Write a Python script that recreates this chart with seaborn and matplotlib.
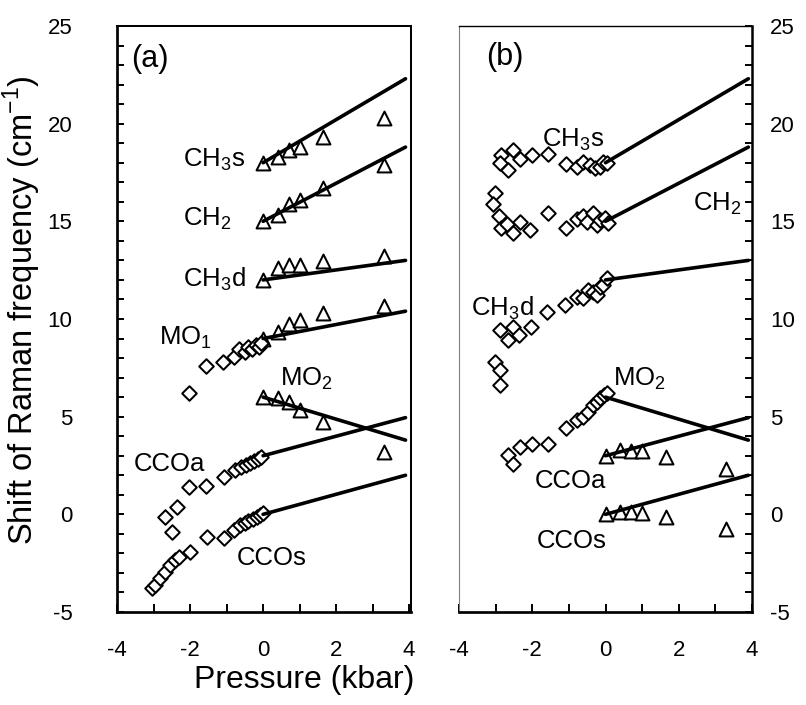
import numpy as np
import pandas as pd
import matplotlib
matplotlib.use("Agg")
import matplotlib.pyplot as plt
import seaborn as sns
from matplotlib.ticker import MultipleLocator

# ---------------- data ----------------
tri_x = [0.0, 0.4, 0.7, 1.0, 1.65, 3.3]

# panel (a) triangles (positive pressure)
a_CH3s_tri = [18.0, 18.3, 18.65, 18.8, 19.3, 20.3]
a_CH2_tri = [15.0, 15.3, 15.9, 16.1, 16.7, 17.9]
a_CH3d_tri = [12.0, 12.6, 12.75, 12.75, 12.95, 13.2]
a_MO1_tri = [9.0, 9.35, 9.75, 9.95, 10.3, 10.65]
a_MO2_tri = [6.0, 5.95, 5.75, 5.35, 4.75, 3.2]

# panel (a) diamonds (negative pressure)
a_MO1_dx = [-2.03, -1.56, -1.09, -0.80, -0.65, -0.50, -0.40, -0.30, -0.20, -0.12, -0.05]
a_MO1_dy = [6.19, 7.59, 7.78, 8.07, 8.45, 8.30, 8.55, 8.45, 8.65, 8.55, 8.75]
a_CCOa_dx = [-2.68, -2.50, -2.36, -2.02, -1.56, -1.06, -0.77, -0.61, -0.47, -0.35, -0.25, -0.15, -0.05]
a_CCOa_dy = [-0.16, -0.89, 0.36, 1.38, 1.46, 1.89, 2.27, 2.44, 2.52, 2.62, 2.75, 2.85, 2.95]
a_CCOs_dx = [-3.05, -2.96, -2.82, -2.68, -2.55, -2.41, -2.29, -2.00, -1.53, -1.06, -0.81,
             -0.63, -0.50, -0.40, -0.27, -0.18, -0.08, 0.0]
a_CCOs_dy = [-3.79, -3.62, -3.28, -2.94, -2.60, -2.34, -2.17, -1.92, -1.15, -1.23, -0.81,
             -0.55, -0.45, -0.35, -0.25, -0.15, -0.05, 0.05]

# panel (b) diamonds (negative pressure)
b_CH3s_dx = [-2.84, -2.52, -2.88, -2.66, -2.34, -2.02, -1.56, -1.08, -0.79, -0.61, -0.42, -0.29, -0.15, -0.06, 0.03]
b_CH3s_dy = [18.39, 18.65, 17.97, 17.63, 18.18, 18.39, 18.44, 17.93, 17.80, 18.05, 17.88, 17.71, 17.80, 18.05, 17.97]
b_CH2_dx = [-3.02, -3.07, -2.90, -2.84, -2.70, -2.52, -2.34, -2.06, -1.56, -1.08, -0.79, -0.61, -0.51, -0.33, -0.24, -0.15, -0.01, 0.08]
b_CH2_dy = [16.47, 15.89, 15.27, 14.67, 14.86, 14.38, 14.98, 14.55, 15.41, 14.64, 15.10, 15.27, 14.98, 15.41, 14.81, 15.07, 15.15, 14.93]
b_CH3d_dx = [-3.02, -2.88, -2.88, -2.88, -2.66, -2.52, -2.36, -2.04, -1.59, -1.11, -0.79, -0.61, -0.47, -0.33, -0.24, -0.15, -0.06, 0.03]
b_CH3d_dy = [7.81, 7.39, 6.62, 9.43, 8.92, 9.60, 9.18, 9.60, 10.37, 10.71, 11.14, 11.06, 11.48, 11.40, 11.23, 11.65, 11.74, 12.08]
b_MO2_dx = [-2.66, -2.52, -2.34, -2.02, -1.56, -1.08, -0.79, -0.62, -0.47, -0.33, -0.24, -0.15, -0.04, 0.03]
b_MO2_dy = [3.03, 2.60, 3.46, 3.60, 3.60, 4.40, 4.83, 5.00, 5.25, 5.59, 5.76, 5.94, 6.10, 6.19]

# panel (b) triangles
b_CCOa_tri = [2.98, 3.27, 3.25, 3.25, 2.95, 2.30]
b_CCOs_tri = [0.0, 0.13, 0.13, 0.08, -0.15, -0.77]

# fitted lines (start at 0 kbar, end at 3.9 kbar)
line_x = [0.0, 3.9]
line_CH3s = [18.0, 22.3]
line_CH2 = [15.0, 18.8]
line_CH3d = [12.0, 13.0]
line_MO1 = [9.0, 10.4]
line_MO2 = [6.0, 3.8]
line_CCOa = [3.0, 4.95]
line_CCOs = [0.0, 2.0]

y_ticks = [-5, 0, 5, 10, 15, 20, 25]
x_ticks = [-4, -2, 0, 2, 4]

# ---------------- style ----------------
sns.set_style("ticks")
plt.rcParams["font.family"] = ["Liberation Sans", "DejaVu Sans"]
plt.rcParams["axes.unicode_minus"] = False
for k in ["text.color", "axes.labelcolor", "xtick.color", "ytick.color", "axes.edgecolor"]:
    plt.rcParams[k] = "black"

fig = plt.figure(figsize=(8.06, 7.05), dpi=100)
W, H = 806, 705
ax_a = fig.add_axes([117 / W, 1 - 612 / H, (411 - 117) / W, (612 - 26) / H])
ax_b = fig.add_axes([459 / W, 1 - 612 / H, (752 - 459) / W, (612 - 26) / H])

D_S = 55
T_S = 100
EW = 1.45
LW = 2.6


def diamonds(ax, x, y):
    sns.scatterplot(x=x, y=y, ax=ax, marker="D", s=D_S, color="white",
                    edgecolor="black", linewidth=EW, zorder=3, legend=False)


def triangles(ax, y):
    sns.scatterplot(x=tri_x, y=y, ax=ax, marker="^", s=T_S, color="white",
                    edgecolor="black", linewidth=EW, zorder=3, legend=False)


def fitline(ax, y):
    sns.lineplot(x=line_x, y=y, ax=ax, color="black", linewidth=LW,
                 estimator=None, zorder=4, legend=False)


# panel (a)
for yv in [a_CH3s_tri, a_CH2_tri, a_CH3d_tri, a_MO1_tri, a_MO2_tri]:
    triangles(ax_a, yv)
diamonds(ax_a, a_MO1_dx, a_MO1_dy)
diamonds(ax_a, a_CCOa_dx, a_CCOa_dy)
diamonds(ax_a, a_CCOs_dx, a_CCOs_dy)
for yv in [line_CH3s, line_CH2, line_CH3d, line_MO1, line_MO2, line_CCOa, line_CCOs]:
    fitline(ax_a, yv)

# panel (b)
diamonds(ax_b, b_CH3s_dx, b_CH3s_dy)
diamonds(ax_b, b_CH2_dx, b_CH2_dy)
diamonds(ax_b, b_CH3d_dx, b_CH3d_dy)
diamonds(ax_b, b_MO2_dx, b_MO2_dy)
triangles(ax_b, b_CCOa_tri)
triangles(ax_b, b_CCOs_tri)
for yv in [line_CH3s, line_CH2, line_CH3d, line_MO2, line_CCOa, line_CCOs]:
    fitline(ax_b, yv)

# axes formatting
for ax, xmax in [(ax_a, 4.05), (ax_b, 4.0)]:
    ax.set_xlim(-4, xmax)
    ax.set_ylim(-5, 25)
    ax.set_xticks(x_ticks)
    ax.set_xticklabels([str(v) for v in x_ticks])
    ax.set_yticks(y_ticks)
    ax.set_yticklabels([str(v) for v in y_ticks])
    ax.xaxis.set_minor_locator(MultipleLocator(1))
    ax.yaxis.set_minor_locator(MultipleLocator(1))
    ax.set_xlabel("")
    ax.set_ylabel("")
    ax.tick_params(axis="x", which="both", direction="in", length=6, width=1.4,
                   labelsize=16, pad=20, top=False, bottom=True, colors="black")

ax_a.tick_params(axis="y", which="both", direction="in", length=5, width=1.4,
                 labelsize=16, pad=32, left=True, right=False, colors="black")
ax_b.tick_params(axis="y", which="both", direction="in", length=5, width=1.4,
                 labelsize=16, pad=13, left=False, right=True,
                 labelleft=False, labelright=True, colors="black")

# spines
for s, lw in {"left": 1.95, "bottom": 1.95, "top": 1.45, "right": 1.45}.items():
    ax_a.spines[s].set_linewidth(lw)
    ax_a.spines[s].set_color("black")
ax_b.spines["left"].set_linewidth(0.8)
ax_b.spines["left"].set_color("#808080")
ax_b.spines["top"].set_linewidth(1.0)
ax_b.spines["top"].set_color("black")
ax_b.spines["right"].set_linewidth(1.8)
ax_b.spines["right"].set_color("black")
ax_b.spines["bottom"].set_linewidth(1.95)
ax_b.spines["bottom"].set_color("black")

# annotations
FS = 18.5
ax_a.text(-3.6, 22.92, "(a)", fontsize=22, va="baseline", ha="left")
ax_a.text(-2.2, 17.8, r"CH$_\mathregular{3}$s", fontsize=FS, va="baseline", ha="left")
ax_a.text(-2.2, 14.81, r"CH$_\mathregular{2}$", fontsize=FS, va="baseline", ha="left")
ax_a.text(-2.2, 11.65, r"CH$_\mathregular{3}$d", fontsize=FS, va="baseline", ha="left")
ax_a.text(-2.86, 8.67, r"MO$_\mathregular{1}$", fontsize=FS, va="baseline", ha="left")
ax_a.text(0.47, 6.62, r"MO$_\mathregular{2}$", fontsize=FS, va="baseline", ha="left")
ax_a.text(-3.55, 2.23, "CCOa", fontsize=FS, va="baseline", ha="left")
ax_a.text(-0.72, -2.6, "CCOs", fontsize=FS, va="baseline", ha="left")

ax_b.text(-3.25, 23.0, "(b)", fontsize=22, va="baseline", ha="left")
ax_b.text(-1.74, 18.82, r"CH$_\mathregular{3}$s", fontsize=FS, va="baseline", ha="left")
ax_b.text(2.4, 15.58, r"CH$_\mathregular{2}$", fontsize=FS, va="baseline", ha="left")
ax_b.text(-3.66, 10.2, r"CH$_\mathregular{3}$d", fontsize=FS, va="baseline", ha="left")
ax_b.text(0.21, 6.62, r"MO$_\mathregular{2}$", fontsize=FS, va="baseline", ha="left")
ax_b.text(-1.93, 1.33, "CCOa", fontsize=FS, va="baseline", ha="left")
ax_b.text(-1.88, -1.74, "CCOs", fontsize=FS, va="baseline", ha="left")

# axis titles
fig.text(22 / W, 1 - 310 / H, r"Shift of Raman frequency (cm$^\mathregular{-1}$)",
         rotation=90, fontsize=23.5, ha="center", va="center")
fig.text(304 / W, 1 - 680 / H, "Pressure (kbar)", fontsize=23, ha="center", va="center")

fig.savefig("out.png", dpi=100)
